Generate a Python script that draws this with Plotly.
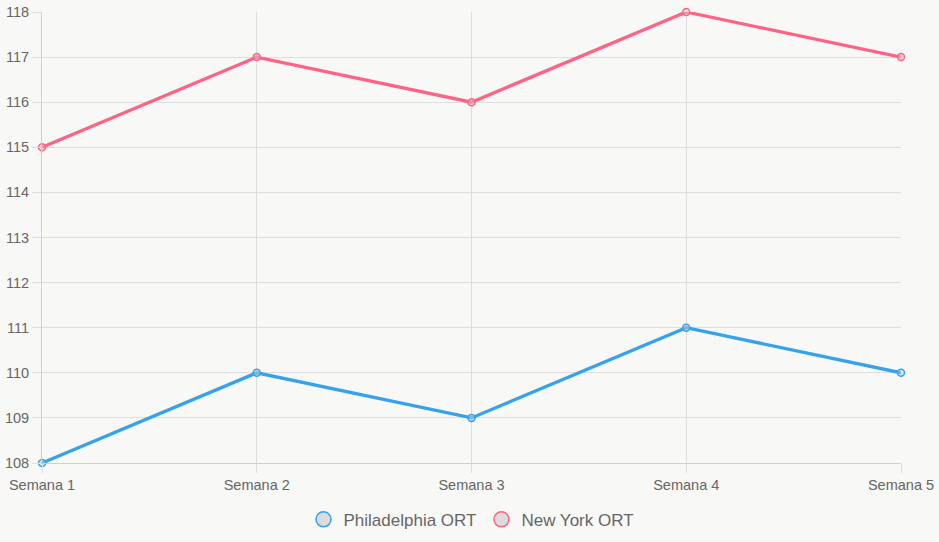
import plotly.graph_objects as go

categories = ["Semana 1", "Semana 2", "Semana 3", "Semana 4", "Semana 5"]
philadelphia = [108, 110, 109, 111, 110]
new_york = [115, 117, 116, 118, 117]
series_names = ["Philadelphia ORT", "New York ORT"]
colors = ["#36a2eb", "#ff6384"]

fig = go.Figure()
for name, vals, col in zip(series_names, [philadelphia, new_york], colors):
    fig.add_trace(go.Scatter(
        x=categories, y=vals, mode="lines+markers", name=name, showlegend=False,
        line=dict(color=col, width=3.3),
        marker=dict(size=7, color="rgba(200,200,200,0.5)", line=dict(color=col, width=1.5)),
        cliponaxis=False,
    ))
    fig.add_trace(go.Scatter(
        x=[None], y=[None], mode="markers", name=name, showlegend=True,
        marker=dict(size=15, color="#dcdcdc", line=dict(color=col, width=1.5)),
    ))

grid = "#dedede"
fig.update_layout(
    width=939, height=542,
    margin=dict(l=42, r=38, t=12, b=79, autoexpand=False),
    paper_bgcolor="#f8f8f6", plot_bgcolor="#f8f8f6",
    font=dict(family="Liberation Sans, Arial, sans-serif", size=12, color="#666"),
    showlegend=True,
    legend=dict(orientation="h", x=0.5, xanchor="center", y=-0.086, yanchor="top",
                font=dict(size=17, color="#666"), itemsizing="trace",
                bgcolor="rgba(0,0,0,0)"),
    xaxis=dict(type="category", range=[0, 4], showgrid=True, gridcolor=grid, gridwidth=1,
               showline=True, linecolor="#cfcfcf", ticks="outside", ticklen=9,
               tickcolor=grid, zeroline=False, automargin=False,
               tickfont=dict(size=14.5, color="#666")),
    yaxis=dict(range=[108, 118], dtick=1, showgrid=True, gridcolor=grid, gridwidth=1,
               showline=True, linecolor="#cfcfcf", ticks="outside", ticklen=9,
               tickcolor=grid, zeroline=False, automargin=False,
               tickfont=dict(size=14.5, color="#666")),
)

fig.write_html("out.html")
